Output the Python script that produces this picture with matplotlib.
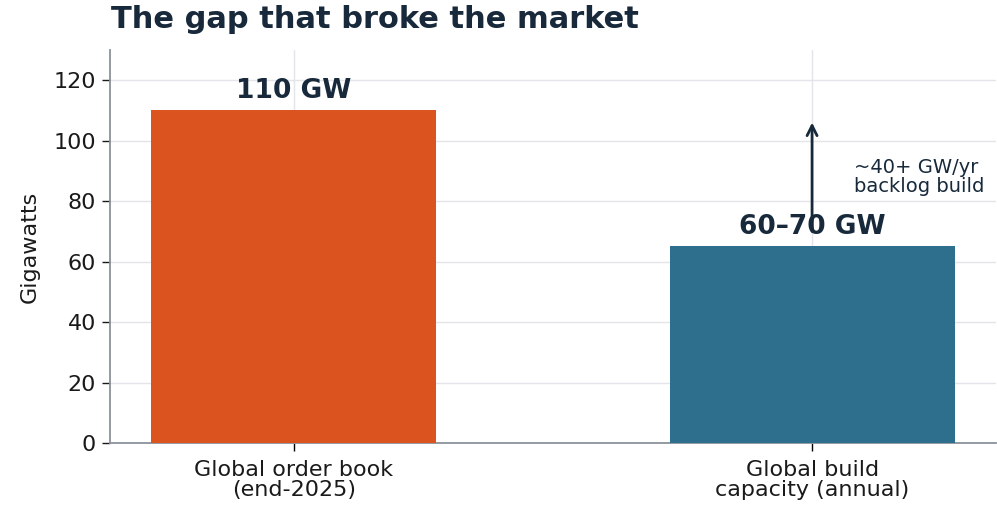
import matplotlib
matplotlib.use("Agg")
import matplotlib.pyplot as plt

categories = ["Global order book\n(end-2025)", "Global build\ncapacity (annual)"]
values = [110, 65]
value_labels = ["110 GW", "60–70 GW"]
colors = ["#DB5420", "#2F6F8E"]
arrow_from = 70
arrow_to = 106
note_text = "~40+ GW/yr\nbacklog build"

dark = "#17293A"
plt.rcParams['font.family'] = ['DejaVu Sans']

fig = plt.figure(figsize=(9.97, 5.05), dpi=100)
ax = fig.add_axes([110/997, 1 - 443/505, (996 - 110)/997, (443 - 50)/505])

x = list(range(len(categories)))
ax.bar(x, values, width=0.55, color=colors, zorder=3)
for xi, v, lab in zip(x, values, value_labels):
    ax.text(xi, v + 2.3, lab, ha='center', va='bottom', fontsize=19,
            fontweight='bold', color=dark, zorder=5)

ax.annotate("", xy=(1, arrow_to), xytext=(1, arrow_from),
            arrowprops=dict(arrowstyle='->', color=dark, lw=2, mutation_scale=18,
                            shrinkA=0, shrinkB=0), zorder=6)
ax.text(1.08, 88, note_text, ha='left', va='center', fontsize=14,
        color=dark, linespacing=1.05)

ax.set_xlim(-0.355, 1.355)
ax.set_ylim(0, 130)
ax.set_yticks([0, 20, 40, 60, 80, 100, 120])
ax.set_xticks(x)
ax.set_xticklabels(categories, fontsize=16, color="#1a1a1a", linespacing=1.05)
ax.tick_params(axis='y', labelsize=16, colors="#1a1a1a", length=6, width=1, pad=4)
ax.tick_params(axis='x', length=6, width=1, pad=6)
ax.set_ylabel("Gigawatts", fontsize=16, color="#1a1a1a", labelpad=10)

ax.grid(True, color="#E3E5EA", linewidth=1, zorder=0)
ax.set_axisbelow(True)
for s in ['top', 'right']:
    ax.spines[s].set_visible(False)
for s in ['left', 'bottom']:
    ax.spines[s].set_color("#8C919B")
    ax.spines[s].set_linewidth(1.3)

fig.text(111/997, 1 - 20/505, "The gap that broke the market", ha='left', va='center',
         fontsize=22, fontweight='bold', color=dark)

fig.savefig("out.png", dpi=100)
